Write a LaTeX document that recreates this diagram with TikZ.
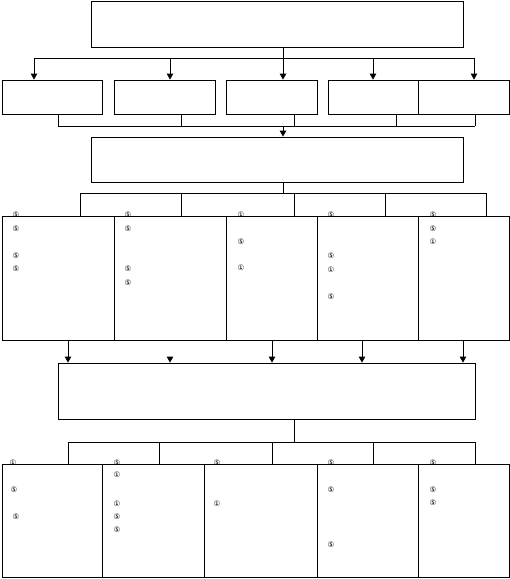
\documentclass[tikz,border=0pt]{standalone}
\usepackage{fontspec}
\newfontfamily\circfont{DejaVu Sans}
\usetikzlibrary{arrows.meta}

\begin{document}
\begin{tikzpicture}[x=1pt, y=-1pt,
    box/.style={draw, line width=0.8pt, inner sep=0pt},
    link/.style={line width=0.8pt},
    arr/.style={line width=0.8pt, -{Triangle[width=6.5pt, length=6pt]}},
    glyph/.style={font=\circfont\fontsize{7.5}{7.5}\selectfont, inner sep=0pt}]
  \useasboundingbox (0,0) rectangle (510,579);

  % Top box and first row
  \node[box, minimum width=372, minimum height=46] (top) at (277,24) {};
  \node[box, minimum width=100, minimum height=34] (b1) at (52,97) {};
  \node[box, minimum width=101, minimum height=34] (b2) at (164.5,97) {};
  \node[box, minimum width=91, minimum height=34] (b3) at (271.5,97) {};
  \node[box, minimum width=90, minimum height=34] (b4) at (373,97) {};
  \node[box, minimum width=91, minimum height=34] (b5) at (463.5,97) {};

  % Split from top box
  \coordinate (s1) at (283,58);
  \draw[link] (top.south -| s1) -- (s1);
  \draw[link] (34,58) coordinate (s1l) -- (474,58) coordinate (s1r);
  \foreach \n/\x in {b1/34, b2/170, b3/283, b4/373, b5/474}
    \draw[arr] (\x,58) -- (\n.north -| \x,0);

  % Merge into middle box
  \node[box, minimum width=372, minimum height=45] (mid) at (277,159.5) {};
  \foreach \n/\x in {b1/58, b2/181, b3/294, b4/396, b5/475}
    \draw[link] (\n.south -| \x,0) -- (\x,126);
  \draw[link] (58,126) -- (475,126);
  \coordinate (m1) at (283,126);
  \draw[arr] (m1) -- (mid.north -| m1);

  % Second row
  \node[box, minimum width=112, minimum height=124] (c1) at (58,278) {};
  \node[box, minimum width=112, minimum height=124] (c2) at (170,278) {};
  \node[box, minimum width=91, minimum height=124] (c3) at (271.5,278) {};
  \node[box, minimum width=101, minimum height=124] (c4) at (367.5,278) {};
  \node[box, minimum width=91, minimum height=124] (c5) at (463.5,278) {};
  \coordinate (s2) at (283,193);
  \draw[link] (mid.south -| s2) -- (s2);
  \draw[link] (80,193) -- (486,193);
  \foreach \n/\x in {c1/80, c2/181, c3/294, c4/385, c5/486}
    \draw[link] (\x,193) -- (\x,216);

  % Marks in second row
  \foreach \y/\t in {215/⑤, 229/⑤, 256/⑤, 269/⑤}
    \node[glyph] at (16,\y) {\t};
  \foreach \y/\t in {215/⑤, 229/⑤, 269/⑤, 283/⑤}
    \node[glyph] at (128,\y) {\t};
  \foreach \y/\t in {215/①, 242/⑤, 268/①}
    \node[glyph] at (241,\y) {\t};
  \foreach \y/\t in {215/⑤, 256/⑤, 270/①, 297/⑤}
    \node[glyph] at (331,\y) {\t};
  \foreach \y/\t in {215/⑤, 229/⑤, 242/①}
    \node[glyph] at (433,\y) {\t};

  % Lower box
  \node[box, minimum width=417, minimum height=56] (low) at (266.5,391) {};
  \foreach \n/\x in {c1/68, c3/272, c4/362, c5/463}
    \draw[arr] (\n.south -| \x,0) -- (low.north -| \x,0);
  \draw[arr] (170,357) -- (low.north -| 170,0);

  % Third row
  \node[box, minimum width=100, minimum height=113] (d1) at (52,520.5) {};
  \node[box, minimum width=102, minimum height=113] (d2) at (153,520.5) {};
  \node[box, minimum width=113, minimum height=113] (d3) at (260.5,520.5) {};
  \node[box, minimum width=101, minimum height=113] (d4) at (367.5,520.5) {};
  \node[box, minimum width=91, minimum height=113] (d5) at (463.5,520.5) {};
  \coordinate (s3) at (294,442);
  \draw[link] (low.south -| s3) -- (s3);
  \draw[link] (68,442) -- (475,442);
  \foreach \x in {68, 159, 272, 373, 475}
    \draw[link] (\x,442) -- (\x,464);

  % Marks in third row
  \node[glyph] at (13,463) {①};
  \node[glyph] at (14,490) {⑤};
  \node[glyph] at (16,517) {⑤};
  \foreach \y/\t in {463/⑤, 475/①, 504/①, 517/⑤, 530/⑤}
    \node[glyph] at (117,\y) {\t};
  \foreach \y/\t in {463/⑤, 504/①}
    \node[glyph] at (217,\y) {\t};
  \foreach \y/\t in {463/⑤, 490/⑤, 545/⑤}
    \node[glyph] at (331,\y) {\t};
  \foreach \y/\t in {463/⑤, 490/⑤, 503/⑤}
    \node[glyph] at (433,\y) {\t};
\end{tikzpicture}
\end{document}
